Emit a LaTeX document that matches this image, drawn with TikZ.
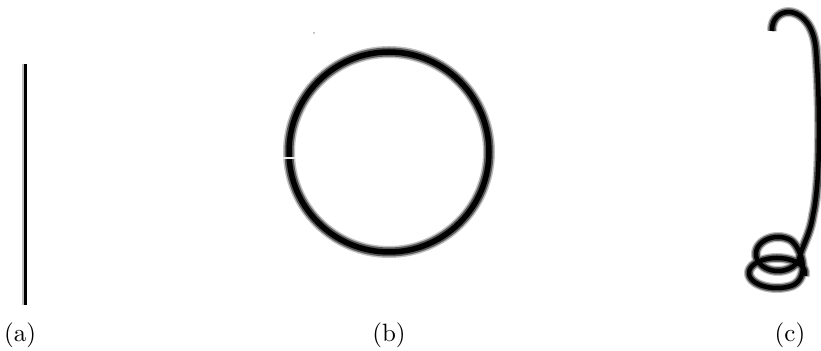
\documentclass[tikz,border=0pt]{standalone}
\begin{document}
\begin{tikzpicture}[x=0.4pt, y=-0.4pt,
    declare function={rampe(\t)=min(1,max(0,(\t-300)/120));
                      lisse(\t)=rampe(\t)*rampe(\t)*(3-2*rampe(\t));},
    gaine/.style={draw=gray!50, line width=#1, line cap=butt},
    coeur/.style={draw=black!65, line width=#1, line cap=butt},
    ame/.style={draw=black, line width=#1, line cap=butt},
    legende/.style={inner sep=0pt, anchor=base}]
            \useasboundingbox (0,0) rectangle (821,351);

            % (a) fil droit
            \coordinate (A0) at (24, 64);
            \coordinate (A1) at (24, 305);
            \draw[gaine=1.9pt] (A0) -- (A1);
            \draw[ame=1.1pt] ([xshift=0.6pt]A0) -- ([xshift=0.6pt]A1);

            % (b) anneau
            \coordinate (B) at (389, 152);
            \draw[gaine=4.8pt] (B) circle (100);
            \draw[coeur=3.6pt] (B) circle (100);
            \draw[ame=2.2pt] (B) circle (100);
            \draw[gray!15, line width=0.5pt] (283, 158) -- (295, 158);
            \fill[gray!50] (314, 33) circle (0.5pt);

            % (c) crochet et boucles
            \coordinate (C0) at (772, 31);
            \coordinate (C1) at (816, 50);
            \coordinate (C2) at (813, 215);
            \coordinate (C3) at (799.25, 258.4);
            \foreach \w/\s in {4.0pt/gaine, 3.0pt/coeur, 1.8pt/ame}
                \draw[\s=\w, line join=round]
                    (C0) .. controls (771, 4) and (812, 2) .. (C1)
                    .. controls (820, 100) and (821, 180) .. (C2)
                    .. controls (810, 235) and (802, 246) .. (C3)
                    -- plot[domain=15:730, samples=180, smooth]
                        ({778 - lisse(\x) + (22 + 6*lisse(\x))*cos(\x)}, {254 + 19*lisse(\x) + (17 - 2*lisse(\x))*sin(\x)});

            % Légendes
            \node[legende] (la) at (20, 342) {(a)};
            \node[legende] (lb) at (389, 342) {(b)};
            \node[legende] (lc) at (790, 342) {(c)};
\end{tikzpicture}
\end{document}
